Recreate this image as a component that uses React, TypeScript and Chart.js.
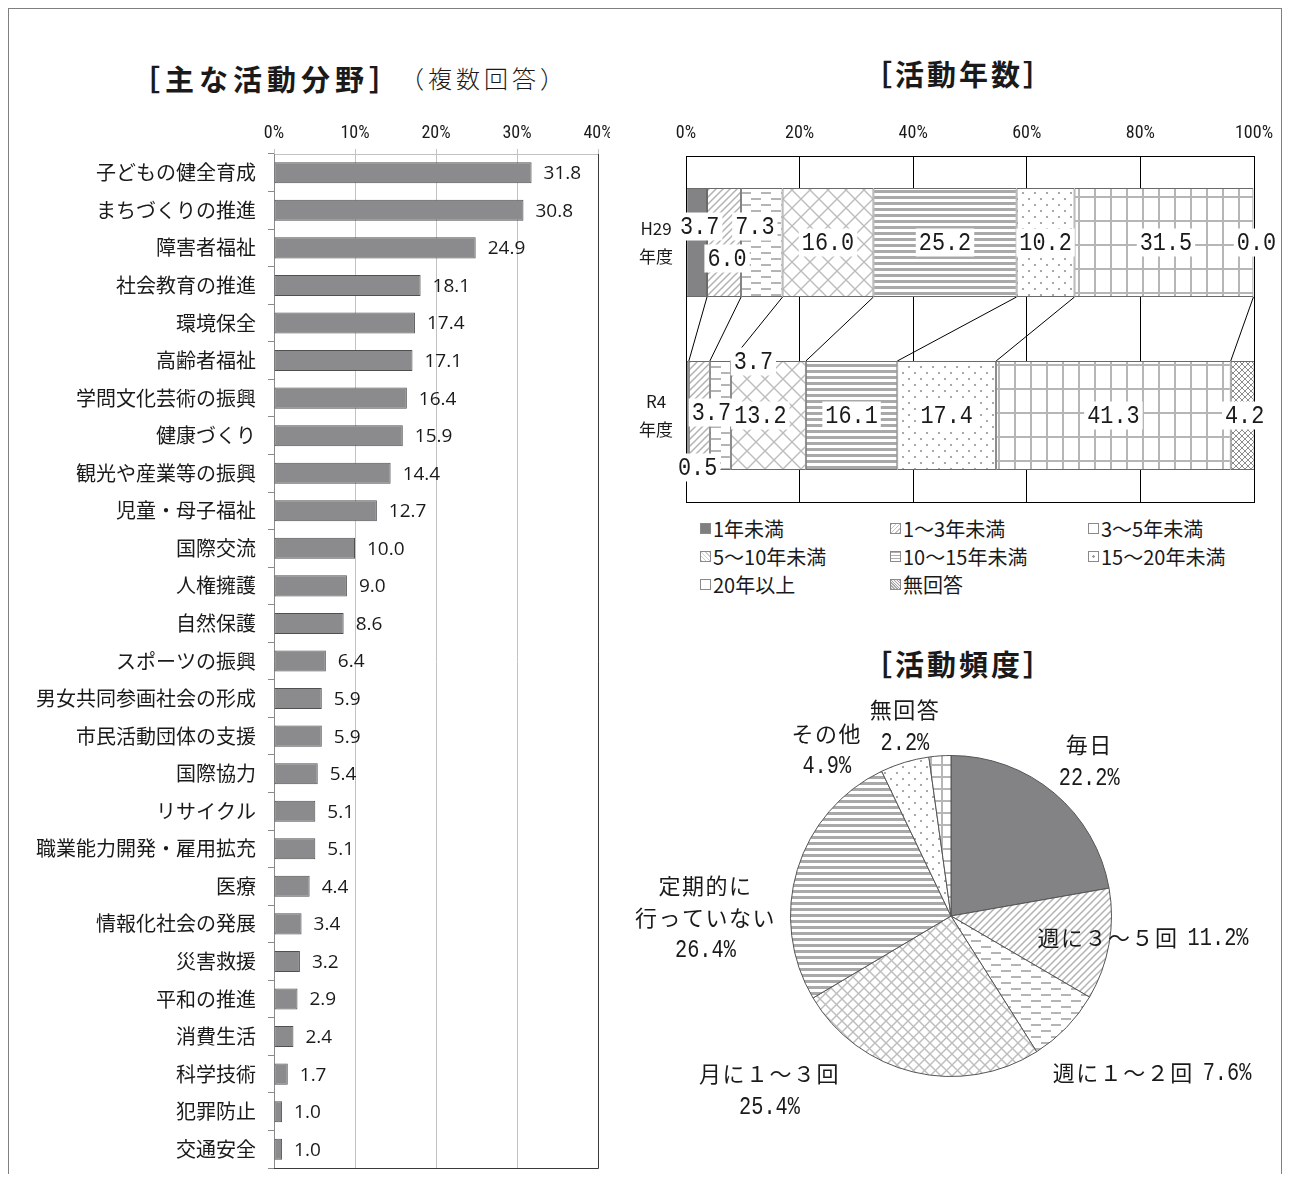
import React, { useEffect, useRef } from 'react';
import { Chart, registerables } from 'chart.js';

Chart.register(...registerables);

// ---------------- data ----------------
const fieldCategories = [
  '子どもの健全育成', 'まちづくりの推進', '障害者福祉', '社会教育の推進', '環境保全', '高齢者福祉',
  '学問文化芸術の振興', '健康づくり', '観光や産業等の振興', '児童・母子福祉', '国際交流', '人権擁護',
  '自然保護', 'スポーツの振興', '男女共同参画社会の形成', '市民活動団体の支援', '国際協力', 'リサイクル',
  '職業能力開発・雇用拡充', '医療', '情報化社会の発展', '災害救援', '平和の推進', '消費生活', '科学技術',
  '犯罪防止', '交通安全',
];
const fieldValues = [
  31.8, 30.8, 24.9, 18.1, 17.4, 17.1, 16.4, 15.9, 14.4, 12.7, 10.0, 9.0, 8.6, 6.4, 5.9, 5.9, 5.4, 5.1,
  5.1, 4.4, 3.4, 3.2, 2.9, 2.4, 1.7, 1.0, 1.0,
];
const fieldTickValues = [0, 10, 20, 30, 40];

const yearGroups = [['H29', '年度'], ['R4', '年度']];
const yearSeries = ['1年未満', '1～3年未満', '3～5年未満', '5～10年未満', '10～15年未満', '15～20年未満', '20年以上', '無回答'];
const yearH29 = [3.7, 6.0, 7.3, 16.0, 25.2, 10.2, 31.5, 0.0];
const yearR4 = [0.5, 3.7, 3.7, 13.2, 16.1, 17.4, 41.3, 4.2];
const yearTickValues = [0, 20, 40, 60, 80, 100];

const freqCategories = ['毎日', '週に３～５回', '週に１～２回', '月に１～３回', '定期的に\n行っていない', 'その他', '無回答'];
const freqValues = [22.2, 11.2, 7.6, 25.4, 26.4, 4.9, 2.2];

// ---------------- styles ----------------
const JP = '"Noto Sans CJK JP", "Noto Sans", sans-serif';
const NARROW = '"Liberation Sans Narrow", "Roboto Condensed", "Liberation Sans", sans-serif';
const MONO = '"Liberation Mono", "DejaVu Sans Mono", monospace';
const TEXT = '#1a1a1a';

const yearPatternKinds = ['solid', 'diag', 'dash', 'lattice', 'hstripe', 'dots', 'grid', 'check'];
const freqPatternKinds = ['solid', 'diag', 'dash', 'latticeSmall', 'hstripe', 'dots', 'gridSmall'];

// label offsets (px) from each segment centre
const yearLabelShiftH29 = [[3, -16], [3, 16], [-7, -16], [0, 0], [0, 0], [0, 0], [2, 0], [3, 0]];
const yearLabelShiftR4 = [[10, 52], [12, -3], [33, -54], [-8, 0], [0, 0], [0, 0], [0, 0], [2, 0]];

// pie label offsets from the outer midpoint of each slice
const freqLabelLayout = [
  { dx: 35, dy: -32, inline: false },
  { dx: 37, dy: -7, inline: true },
  { dx: 88, dy: 45, inline: true },
  { dx: -144, dy: 18, inline: false },
  { dx: -92, dy: 48, inline: false },
  { dx: -78, dy: -13, inline: false },
  { dx: -35, dy: -30, inline: false },
];

const yearSwatchCss: React.CSSProperties[] = [
  { background: '#7f7f7f' },
  { background: 'repeating-linear-gradient(135deg, #c4c4c4 0 1px, #fff 1px 3px)' },
  { background: '#fff' },
  { background: 'repeating-linear-gradient(45deg, #d0d0d0 0 1px, #fff 1px 3px)' },
  { background: 'repeating-linear-gradient(#b0b0b0 0 1px, #fff 1px 3px)' },
  { background: 'radial-gradient(circle, #999 1px, #fff 1.5px)' },
  { background: '#fff' },
  { background: 'repeating-linear-gradient(45deg, #aaa 0 1px, #eee 1px 2px)' },
];

function mkPattern(kind: string): CanvasPattern | string {
  if (kind === 'solid') return '#838386';
  const c = document.createElement('canvas');
  const g = c.getContext('2d')!;
  const base = (w: number, h: number) => {
    c.width = w; c.height = h;
    g.fillStyle = '#ffffff'; g.fillRect(0, 0, w, h);
  };
  const seg = (x1: number, y1: number, x2: number, y2: number) => {
    g.beginPath(); g.moveTo(x1, y1); g.lineTo(x2, y2); g.stroke();
  };
  switch (kind) {
    case 'diag': {
      const s = 7; base(s, s);
      g.strokeStyle = '#b2b2b2'; g.lineWidth = 1.5;
      seg(-1, s + 1, s + 1, -1); seg(-1, 1, 1, -1); seg(s - 1, s + 1, s + 1, s - 1);
      break;
    }
    case 'dash': {
      base(20, 12); g.fillStyle = '#b4b4b4';
      g.fillRect(1, 2, 10, 2); g.fillRect(11, 8, 9, 2); g.fillRect(0, 8, 1, 2);
      break;
    }
    case 'lattice':
    case 'latticeSmall': {
      const s = kind === 'lattice' ? 18 : 11; base(s, s);
      g.strokeStyle = '#bdbdbd'; g.lineWidth = 1.4;
      seg(0, 0, s, s); seg(s, 0, 0, s);
      break;
    }
    case 'hstripe': base(6, 6); g.fillStyle = '#a9a9a9'; g.fillRect(0, 0, 6, 3); break;
    case 'dots': base(12, 12); g.fillStyle = '#a8a8a8'; g.fillRect(2, 2, 2, 2); g.fillRect(8, 8, 2, 2); break;
    case 'grid': base(16, 24); g.fillStyle = '#b6b6b6'; g.fillRect(0, 0, 16, 2); g.fillRect(0, 0, 2, 24); break;
    case 'gridSmall': base(11, 12); g.fillStyle = '#b6b6b6'; g.fillRect(0, 0, 11, 2); g.fillRect(0, 0, 2, 12); break;
    case 'check': base(6, 6); g.strokeStyle = '#8c8c8c'; g.lineWidth = 1; seg(0, 0, 6, 6); seg(6, 0, 0, 6); break;
  }
  return g.createPattern(c, 'repeat')!;
}

const px = (v: number) => Math.round(v - 0.5) + 0.5;

function drawScaled(ctx: CanvasRenderingContext2D, text: string, x: number, y: number, size: number, sx: number, align: CanvasTextAlign) {
  ctx.save();
  ctx.font = `${size}px ${MONO}`;
  ctx.translate(x, y);
  ctx.scale(sx, 1);
  ctx.fillStyle = TEXT;
  ctx.textAlign = align;
  ctx.textBaseline = 'middle';
  ctx.fillText(text, 0, 1);
  ctx.restore();
}
function scaledWidth(ctx: CanvasRenderingContext2D, text: string, size: number, sx: number) {
  ctx.save();
  ctx.font = `${size}px ${MONO}`;
  const w = ctx.measureText(text).width * sx;
  ctx.restore();
  return w;
}

const fixBox = (w: number | null, h: number | null) => (s: any) => {
  if (w !== null) s.width = w;
  if (h !== null) s.height = h;
  s.paddingLeft = 0; s.paddingRight = 0; s.paddingTop = 0; s.paddingBottom = 0;
};

// ---------------- plugins ----------------
const fieldPlugin = {
  id: 'fieldDecor',
  afterDatasetsDraw(chart: any) {
    const { ctx, chartArea: a } = chart;
    ctx.save();
    ctx.strokeStyle = '#3a3a3a';
    ctx.lineWidth = 1;
    ctx.beginPath();
    ctx.moveTo(px(a.right), a.top);
    ctx.lineTo(px(a.right), px(a.bottom));
    ctx.lineTo(a.left, px(a.bottom));
    ctx.stroke();
    ctx.font = `19px "Open Sans", ${JP}`;
    ctx.fillStyle = TEXT;
    ctx.textAlign = 'left';
    ctx.textBaseline = 'middle';
    chart.getDatasetMeta(0).data.forEach((el: any, i: number) => {
      ctx.fillText(fieldValues[i].toFixed(1), el.x + 12, el.y + 1);
    });
    ctx.restore();
  },
};

const yearPlugin = {
  id: 'yearDecor',
  afterDatasetsDraw(chart: any) {
    const { ctx, chartArea: a } = chart;
    ctx.save();
    ctx.strokeStyle = '#000';
    ctx.lineWidth = 1;
    ctx.strokeRect(px(a.left), px(a.top), px(a.right) - px(a.left), px(a.bottom) - px(a.top));
    // series lines
    const n = chart.data.datasets.length;
    for (let i = 0; i < n - 1; i++) {
      const m = chart.getDatasetMeta(i);
      const e0: any = m.data[0];
      const e1: any = m.data[1];
      ctx.beginPath();
      ctx.moveTo(e0.x, e0.y + e0.height / 2);
      ctx.lineTo(e1.x, e1.y - e1.height / 2);
      ctx.stroke();
    }
    // labels
    const size = 26, sx = 0.84;
    for (let i = 0; i < n; i++) {
      const m = chart.getDatasetMeta(i);
      m.data.forEach((el: any, k: number) => {
        const v = (k === 0 ? yearH29 : yearR4)[i];
        const sh = (k === 0 ? yearLabelShiftH29 : yearLabelShiftR4)[i];
        const text = v.toFixed(1);
        const cx = (el.x + el.base) / 2 + sh[0];
        const cy = el.y + sh[1];
        const w = scaledWidth(ctx, text, size, sx);
        ctx.fillStyle = '#ffffff';
        ctx.fillRect(cx - w / 2 - 3, cy - 14, w + 6, 28);
        drawScaled(ctx, text, cx, cy, size, sx, 'center');
      });
    }
    ctx.restore();
  },
};

const freqPlugin = {
  id: 'freqLabels',
  afterDraw(chart: any) {
    const { ctx } = chart;
    const meta = chart.getDatasetMeta(0);
    const pSize = 26, pSx = 0.78;
    const nameFont = `22px ${JP}`;
    meta.data.forEach((el: any, i: number) => {
      const mid = (el.startAngle + el.endAngle) / 2;
      const ax = el.x + Math.cos(mid) * el.outerRadius;
      const ay = el.y + Math.sin(mid) * el.outerRadius;
      const L = freqLabelLayout[i];
      const cx = ax + L.dx;
      const cy = ay + L.dy;
      const names = freqCategories[i].split('\n');
      const pct = freqValues[i].toFixed(1) + '%';
      ctx.save();
      ctx.font = nameFont;
      (ctx as any).letterSpacing = '1.5px';
      ctx.fillStyle = TEXT;
      ctx.textBaseline = 'middle';
      if (L.inline) {
        const nw = ctx.measureText(names[0]).width;
        const pw = scaledWidth(ctx, pct, pSize, pSx);
        const gap = 9;
        const start = cx - (nw + gap + pw) / 2;
        ctx.textAlign = 'left';
        ctx.fillText(names[0], start, cy);
        (ctx as any).letterSpacing = '0px';
        drawScaled(ctx, pct, start + nw + gap, cy, pSize, pSx, 'left');
      } else {
        const lines = [...names, pct];
        const lh = 32;
        lines.forEach((t, k) => {
          const y = cy + (k - (lines.length - 1) / 2) * lh;
          if (k === lines.length - 1) {
            (ctx as any).letterSpacing = '0px';
            drawScaled(ctx, t, cx, y, pSize, pSx, 'center');
          } else {
            ctx.textAlign = 'center';
            ctx.fillText(t, cx, y);
          }
        });
      }
      ctx.restore();
    });
  },
};

// ---------------- component ----------------
const pos = (x: number, y: number): React.CSSProperties => ({ position: 'absolute', left: x - 9, top: y - 9 });

export default function App() {
  const fieldRef = useRef<HTMLCanvasElement>(null);
  const yearRef = useRef<HTMLCanvasElement>(null);
  const freqRef = useRef<HTMLCanvasElement>(null);

  useEffect(() => {
    const fieldChart = new Chart(fieldRef.current!, {
      type: 'bar',
      data: {
        labels: fieldCategories,
        datasets: [{
          data: fieldValues,
          backgroundColor: '#8b8b8e',
          borderColor: '#505050',
          borderWidth: 1,
          borderSkipped: false,
          barPercentage: 0.56,
          categoryPercentage: 1,
        }],
      },
      options: {
        indexAxis: 'y',
        animation: false,
        responsive: false,
        maintainAspectRatio: false,
        layout: { padding: { left: 0, right: 12, top: 0, bottom: 6 } },
        plugins: { legend: { display: false }, tooltip: { enabled: false } },
        scales: {
          x: {
            position: 'top',
            min: fieldTickValues[0],
            max: fieldTickValues[fieldTickValues.length - 1],
            ticks: {
              stepSize: fieldTickValues[1] - fieldTickValues[0],
              callback: (v: any) => v + '%',
              font: { family: NARROW, size: 18 },
              color: TEXT,
              padding: 5,
              maxRotation: 0,
            },
            grid: { color: '#c2c2c2', tickLength: 5 },
            border: { color: '#c2c2c2' },
            afterFit: fixBox(null, 54),
          },
          y: {
            ticks: { font: { family: JP, size: 20 }, color: TEXT, padding: 12, autoSkip: false },
            grid: { offset: true, drawOnChartArea: false, tickLength: 6, color: '#8a8a8a' },
            border: { color: '#8a8a8a' },
            afterFit: fixBox(264, null),
          },
        },
      } as any,
      plugins: [fieldPlugin],
    });

    const yearChart = new Chart(yearRef.current!, {
      type: 'bar',
      data: {
        labels: yearGroups as any,
        datasets: yearSeries.map((name, i) => ({
          label: name,
          data: [yearH29[i], yearR4[i]],
          backgroundColor: mkPattern(yearPatternKinds[i]) as any,
          borderColor: '#6a6a6a',
          borderWidth: 1,
          borderSkipped: false,
          barPercentage: 0.63,
          categoryPercentage: 1,
        })),
      },
      options: {
        indexAxis: 'y',
        animation: false,
        responsive: false,
        maintainAspectRatio: false,
        layout: { padding: { left: 0, right: 26, top: 0, bottom: 8 } },
        plugins: { legend: { display: false }, tooltip: { enabled: false } },
        scales: {
          x: {
            position: 'top',
            stacked: true,
            min: yearTickValues[0],
            max: yearTickValues[yearTickValues.length - 1],
            ticks: {
              stepSize: yearTickValues[1] - yearTickValues[0],
              callback: (v: any) => v + '%',
              font: { family: NARROW, size: 18 },
              color: TEXT,
              padding: 12,
              maxRotation: 0,
            },
            grid: { color: '#000', drawTicks: false },
            border: { color: '#000' },
            afterFit: fixBox(null, 56),
          },
          y: {
            stacked: true,
            ticks: { font: { family: JP, size: 17, lineHeight: 1.7 }, color: TEXT, padding: 13, crossAlign: 'center' },
            grid: { drawOnChartArea: false, drawTicks: false },
            border: { color: '#000' },
            afterFit: fixBox(56, null),
          },
        },
      } as any,
      plugins: [yearPlugin],
    });

    const freqChart = new Chart(freqRef.current!, {
      type: 'pie',
      data: {
        labels: freqCategories,
        datasets: [{
          data: freqValues,
          backgroundColor: freqPatternKinds.map((k) => mkPattern(k)) as any,
          borderColor: '#555555',
          borderWidth: 1,
        }],
      },
      options: {
        animation: false,
        responsive: false,
        maintainAspectRatio: false,
        layout: { padding: { left: 190, top: 75, right: 158, bottom: 97 } },
        plugins: { legend: { display: false }, tooltip: { enabled: false } },
      } as any,
      plugins: [freqPlugin],
    });

    return () => {
      fieldChart.destroy();
      yearChart.destroy();
      freqChart.destroy();
    };
  }, []);

  const legendCols = [700, 890, 1088];
  const legendRows = [528, 556, 584];

  return (
    <div
      style={{
        position: 'relative',
        width: 1274,
        height: 1166,
        borderTop: '1px solid #808080',
        borderLeft: '1px solid #808080',
        borderRight: '1px solid #808080',
        boxSizing: 'border-box',
        overflow: 'hidden',
        background: '#fff',
        fontFamily: JP,
        color: TEXT,
      }}
    >
      <div style={{ ...pos(131, 61), fontSize: 29, fontWeight: 700, letterSpacing: 5, lineHeight: '34px', whiteSpace: 'nowrap' }}>
        ［主な活動分野］
      </div>
      <div style={{ ...pos(400, 63), fontSize: 24, fontWeight: 300, letterSpacing: 4, lineHeight: '30px', whiteSpace: 'nowrap' }}>
        （複数回答）
      </div>
      <div style={{ ...pos(863, 56), fontSize: 29, fontWeight: 700, letterSpacing: 3, lineHeight: '34px', whiteSpace: 'nowrap' }}>
        ［活動年数］
      </div>
      <div style={{ ...pos(863, 646), fontSize: 29, fontWeight: 700, letterSpacing: 3, lineHeight: '34px', whiteSpace: 'nowrap' }}>
        ［活動頻度］
      </div>

      <canvas ref={fieldRef} width={600} height={1074} style={{ ...pos(10, 100), width: 600, height: 1074 }} />
      <canvas ref={yearRef} width={650} height={410} style={{ ...pos(630, 100), width: 650, height: 410 }} />
      <canvas ref={freqRef} width={670} height={494} style={{ ...pos(600, 680), width: 670, height: 494 }} />

      {yearSeries.map((name, i) => (
        <div
          key={name}
          style={{
            ...pos(legendCols[i % 3], legendRows[Math.floor(i / 3)] - 14),
            display: 'flex',
            alignItems: 'center',
            height: 28,
            fontSize: 20,
            whiteSpace: 'nowrap',
          }}
        >
          <span
            style={{
              display: 'inline-block',
              width: 9,
              height: 9,
              border: '1px solid #8a8a8a',
              marginRight: 2,
              ...yearSwatchCss[i],
            }}
          />
          <span>{name}</span>
        </div>
      ))}
    </div>
  );
}
